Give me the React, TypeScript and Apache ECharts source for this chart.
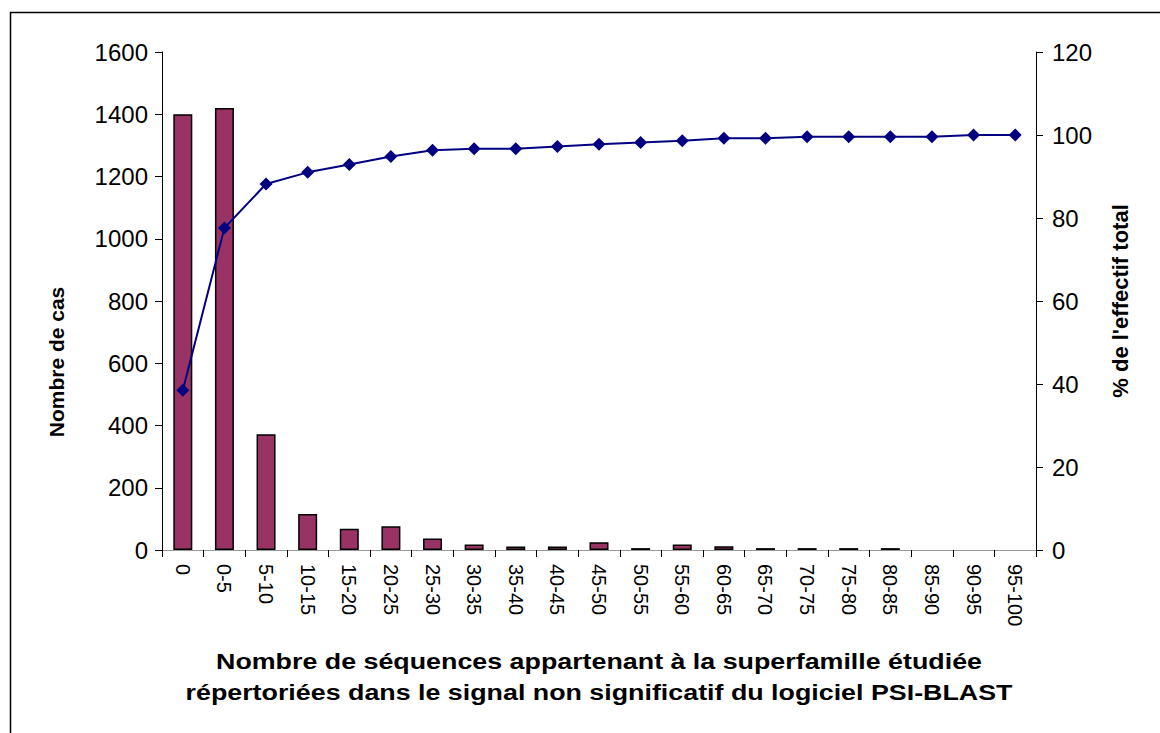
import React, { useEffect, useRef } from "react";
import * as echarts from "echarts";

const categories = ["0", "0-5", "5-10", "10-15", "15-20", "20-25", "25-30", "30-35", "35-40", "40-45", "45-50", "50-55", "55-60", "60-65", "65-70", "70-75", "75-80", "80-85", "85-90", "90-95", "95-100"];
const caseCounts = [1400, 1420, 372, 116, 68, 76, 37, 18, 11, 11, 25, 6, 18, 12, 6, 6, 6, 6, 0, 0, 0];
const cumulativePercent = [38.5, 77.6, 88.2, 91.0, 92.9, 94.8, 96.3, 96.7, 96.7, 97.2, 97.8, 98.2, 98.6, 99.2, 99.2, 99.6, 99.6, 99.6, 99.6, 100, 100];
const leftTicks = { min: 0, max: 1600, interval: 200 };
const rightTicks = { min: 0, max: 120, interval: 20 };

const FONT = "'Liberation Sans', Arial, sans-serif";

export default function App() {
  const ref = useRef<HTMLDivElement>(null);
  useEffect(() => {
    if (!ref.current) return;
    const chart = echarts.init(ref.current, undefined, { renderer: "svg" });
    const grid = { left: 162, right: 124, top: 52, bottom: 183 };
    const barData = caseCounts.map((v) =>
      v === 0 ? { value: v, itemStyle: { borderWidth: 0 } } : v
    );
    chart.setOption({
      animation: false,
      backgroundColor: "#ffffff",
      textStyle: { fontFamily: FONT },
      grid: { ...grid, containLabel: false },
      xAxis: [
        {
          type: "category",
          data: categories,
          position: "bottom",
          axisLine: { show: true, lineStyle: { color: "#000", width: 1 } },
          axisTick: { show: true, length: 7, lineStyle: { color: "#000" } },
          axisLabel: { rotate: -90, color: "#000", fontSize: 20, fontFamily: FONT, margin: 14, interval: 0 },
          splitLine: { show: false },
        },
        {
          type: "category",
          data: categories,
          position: "top",
          axisLine: { show: true, lineStyle: { color: "#999", width: 1 } },
          axisTick: { show: false },
          axisLabel: { show: false },
          splitLine: { show: false },
        },
      ],
      yAxis: [
        {
          type: "value",
          ...leftTicks,
          position: "left",
          axisLine: { show: true, lineStyle: { color: "#000", width: 1 } },
          axisTick: { show: true, length: 7, lineStyle: { color: "#000" } },
          axisLabel: { color: "#000", fontSize: 24, fontFamily: FONT, margin: 14, formatter: (v: number) => String(v) },
          splitLine: { show: false },
        },
        {
          type: "value",
          ...rightTicks,
          position: "right",
          axisLine: { show: true, lineStyle: { color: "#000", width: 1 } },
          axisTick: { show: true, length: 7, lineStyle: { color: "#000" } },
          axisLabel: { color: "#000", fontSize: 24, fontFamily: FONT, margin: 16, formatter: (v: number) => String(v) },
          splitLine: { show: false },
        },
      ],
      series: [
        {
          type: "bar",
          name: "Nombre de cas",
          data: barData,
          xAxisIndex: 0,
          yAxisIndex: 0,
          barWidth: 19,
          itemStyle: { color: "#993366", borderColor: "#000", borderWidth: 1.5 },
        },
        {
          type: "line",
          name: "% de l'effectif total",
          data: cumulativePercent,
          xAxisIndex: 0,
          yAxisIndex: 1,
          symbol: "diamond",
          symbolSize: 13,
          lineStyle: { color: "#000080", width: 2 },
          itemStyle: { color: "#000080" },
        },
      ],
      graphic: [
        {
          type: "rect",
          shape: { x: 10.5, y: 12.5, width: 1200, height: 800 },
          style: { fill: "none", stroke: "#000", lineWidth: 1.5 },
          silent: true,
          z: -10,
        },
        {
          type: "text",
          x: 56,
          y: 362,
          rotation: Math.PI / 2,
          style: {
            text: "Nombre de cas",
            font: `bold 21px ${FONT}`,
            fill: "#000",
            textAlign: "center",
            textVerticalAlign: "middle",
          },
        },
        {
          type: "text",
          x: 1120,
          y: 301,
          rotation: Math.PI / 2,
          style: {
            text: "% de l'effectif total",
            font: `bold 22px ${FONT}`,
            fill: "#000",
            textAlign: "center",
            textVerticalAlign: "middle",
          },
        },
        {
          type: "text",
          x: 599,
          y: 677,
          scaleX: 1.22,
          style: {
            text: "Nombre de séquences appartenant à la superfamille étudiée\nrépertoriées dans le signal non significatif du logiciel PSI-BLAST",
            font: `bold 22px ${FONT}`,
            lineHeight: 31,
            fill: "#000",
            textAlign: "center",
            textVerticalAlign: "middle",
          },
        },
      ],
    });
    return () => chart.dispose();
  }, []);
  return <div ref={ref} style={{ position: "absolute", left: 0, top: 0, width: 1160, height: 733 }} />;
}
